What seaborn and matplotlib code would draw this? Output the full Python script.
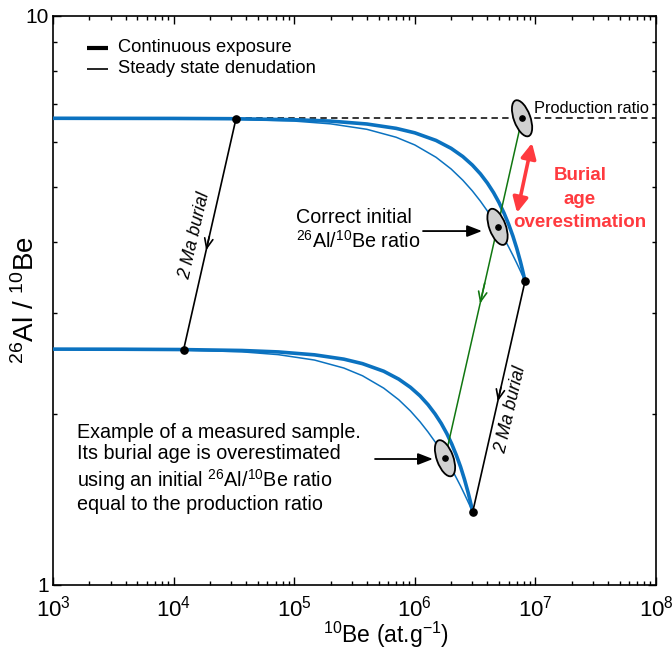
import numpy as np
import pandas as pd
import matplotlib
matplotlib.use("Agg")
import matplotlib.pyplot as plt
from matplotlib import transforms
from matplotlib.patches import Ellipse
from matplotlib.lines import Line2D
from matplotlib.ticker import FixedLocator, FixedFormatter, LogLocator, NullFormatter
import seaborn as sns

# ---------------------------------------------------------------------------
# Data
# ---------------------------------------------------------------------------
production_ratio = 6.61

# 10Be concentration (at/g) along the surface curves
be10_surface = [1e3, 1e4, 3e4, 1e5, 2e5, 4e5, 7e5, 1e6, 1.5e6, 2e6, 2.5e6, 3e6,
                3.5e6, 4e6, 4.5e6, 5e6, 5.5e6, 6e6, 6.5e6, 7e6, 7.5e6, 7.8e6,
                8.0e6, 8.1e6, 8.2e6]
ratio_exposure = [6.610, 6.606, 6.599, 6.572, 6.535, 6.459, 6.346, 6.232, 6.043,
                  5.853, 5.662, 5.470, 5.278, 5.085, 4.892, 4.697, 4.501, 4.304,
                  4.106, 3.906, 3.705, 3.583, 3.501, 3.459, 3.418]
ratio_denudation = [6.610, 6.602, 6.587, 6.536, 6.463, 6.322, 6.122, 5.934, 5.645,
                    5.384, 5.145, 4.927, 4.726, 4.541, 4.370, 4.211, 4.064, 3.927,
                    3.798, 3.678, 3.565, 3.500, 3.459, 3.438, 3.418]

# the same curves after 2 Ma of burial
be10_buried = [368, 3681, 1.104e4, 3.681e4, 7.362e4, 1.472e5, 2.577e5, 3.681e5,
               5.522e5, 7.362e5, 9.203e5, 1.104e6, 1.288e6, 1.472e6, 1.656e6,
               1.841e6, 2.025e6, 2.209e6, 2.393e6, 2.577e6, 2.761e6, 2.871e6,
               2.945e6, 2.982e6, 3.018e6]
ratio_exposure_buried = [2.598, 2.596, 2.593, 2.583, 2.568, 2.538, 2.494, 2.449,
                         2.375, 2.300, 2.225, 2.150, 2.074, 1.998, 1.923, 1.846,
                         1.769, 1.691, 1.614, 1.535, 1.456, 1.408, 1.376, 1.359,
                         1.343]
ratio_denudation_buried = [2.598, 2.595, 2.589, 2.569, 2.540, 2.485, 2.406, 2.332,
                           2.218, 2.116, 2.022, 1.936, 1.857, 1.785, 1.717, 1.655,
                           1.597, 1.543, 1.493, 1.445, 1.401, 1.376, 1.359, 1.351,
                           1.343]

# 2 Ma burial paths (start, end)
burial_low_be = [3.29e4, 1.211e4]
burial_low_ratio = [6.598, 2.593]
burial_sat_be = [8.2e6, 3.018e6]
burial_sat_ratio = [3.418, 1.343]

# burial path of the sample: production ratio -> correct initial -> measured
sample_be = [7.75e6, 4.85e6, 1.78e6]
sample_ratio = [6.61, 4.26, 1.67]

x_ticks = [1e3, 1e4, 1e5, 1e6, 1e7, 1e8]
y_ticks = [1, 10]
y_tick_labels = ["1", "10"]

# ---------------------------------------------------------------------------
# Style
# ---------------------------------------------------------------------------
sns.set_style("ticks")
plt.rcParams["font.family"] = ["Liberation Sans", "DejaVu Sans"]
plt.rcParams["mathtext.fontset"] = "custom"
plt.rcParams["mathtext.rm"] = "Liberation Sans"
plt.rcParams["mathtext.it"] = "Liberation Sans:italic"
plt.rcParams["mathtext.bf"] = "Liberation Sans:bold"
for key in ["text.color", "axes.labelcolor", "xtick.color", "ytick.color",
            "axes.edgecolor"]:
    plt.rcParams[key] = "black"

BLUE = "#0b72c0"
GREEN = "#117711"
RED = "#ff3a3f"

fig = plt.figure(figsize=(6.72, 6.55), dpi=100)
ax = fig.add_axes([0.0789, 0.1069, 0.8973, 0.8687])
ax.set_xscale("log")
ax.set_yscale("log")
ax.set_xlim(1e3, 1e8)
ax.set_ylim(1, 10)
ax.set_autoscale_on(False)

# production ratio reference line
ax.axhline(production_ratio, color="black", lw=1.1, ls=(0, (4.2, 2.8)), zorder=1)

# surface and buried curves
curves = [
    (be10_surface, ratio_exposure, 2.6),
    (be10_surface, ratio_denudation, 1.1),
    (be10_buried, ratio_exposure_buried, 2.6),
    (be10_buried, ratio_denudation_buried, 1.1),
]
for xs, ys, lw in curves:
    sns.lineplot(x=xs, y=ys, ax=ax, color=BLUE, linewidth=lw, sort=False,
                 estimator=None, zorder=3)


def interp_log(xs, ys, t):
    lx = np.log10(xs[0]) + t * (np.log10(xs[-1]) - np.log10(xs[0]))
    ly = np.log10(ys[0]) + t * (np.log10(ys[-1]) - np.log10(ys[0]))
    return 10 ** lx, 10 ** ly


def path_arrow(xs, ys, t, color):
    tip = interp_log(xs, ys, t)
    tail = interp_log(xs, ys, t - 0.06)
    ax.annotate("", xy=tip, xytext=tail,
                arrowprops=dict(arrowstyle="->,head_length=0.7,head_width=0.3",
                                color=color, lw=1.2, shrinkA=0, shrinkB=0),
                zorder=4)


# burial paths
for xs, ys, t in [(burial_low_be, burial_low_ratio, 0.57),
                  (burial_sat_be, burial_sat_ratio, 0.52)]:
    sns.lineplot(x=xs, y=ys, ax=ax, color="black", linewidth=1.2, sort=False,
                 estimator=None, zorder=4)
    path_arrow(xs, ys, t, "black")
    ax.plot([xs[0], xs[-1]], [ys[0], ys[-1]], "o", color="black", ms=5.2,
            zorder=7)

sns.lineplot(x=sample_be, y=sample_ratio, ax=ax, color=GREEN, linewidth=1.1,
             sort=False, estimator=None, zorder=4)
path_arrow([sample_be[0], sample_be[-1]], [sample_ratio[0], sample_ratio[-1]],
           0.545, GREEN)

# uncertainty ellipses drawn in display space around each point
for bx, ry in zip(sample_be, sample_ratio):
    tr = fig.dpi_scale_trans + transforms.ScaledTranslation(bx, ry, ax.transData)
    ax.add_patch(Ellipse((0, 0), width=0.165, height=0.38, angle=20,
                         transform=tr, facecolor="#d0d0d0",
                         edgecolor="black", lw=1.3, zorder=6))
    ax.plot([bx], [ry], "o", color="black", ms=3.8, zorder=7)

# ---------------------------------------------------------------------------
# Annotations
# ---------------------------------------------------------------------------
ax.text(0.2355, 0.6134, "2 Ma burial", transform=ax.transAxes, rotation=77,
        rotation_mode="anchor", ha="center", va="center", fontsize=13,
        style="italic")
ax.text(0.7595, 0.3076, "2 Ma burial", transform=ax.transAxes, rotation=77,
        rotation_mode="anchor", ha="center", va="center", fontsize=13,
        style="italic")

ax.text(0.7977, 0.838, "Production ratio", transform=ax.transAxes,
        ha="left", va="center", fontsize=11.8)

ax.text(0.403, 0.624, "Correct initial\n$^{26}$Al/$^{10}$Be ratio",
        transform=ax.transAxes, ha="left", va="center", fontsize=14.2,
        linespacing=1.15)
ax.annotate("", xy=(0.7114, 0.622), xytext=(0.6136, 0.622),
            xycoords="axes fraction", textcoords="axes fraction",
            arrowprops=dict(arrowstyle="-|>,head_length=0.9,head_width=0.35",
                            color="black", lw=1.3, shrinkA=0, shrinkB=0))

ax.text(0.0398, 0.2047,
        "Example of a measured sample.\nIts burial age is overestimated\n"
        "using an initial $^{26}$Al/$^{10}$Be ratio\nequal to the production ratio",
        transform=ax.transAxes, ha="left", va="center", fontsize=14.2,
        linespacing=1.18)
ax.annotate("", xy=(0.630, 0.2214), xytext=(0.534, 0.2214),
            xycoords="axes fraction", textcoords="axes fraction",
            arrowprops=dict(arrowstyle="-|>,head_length=0.9,head_width=0.35",
                            color="black", lw=1.3, shrinkA=0, shrinkB=0))

# overestimation arrow
ax.annotate("", xy=(7.04e6, 4.51), xytext=(9.37e6, 5.98),
            arrowprops=dict(arrowstyle="<|-|>,head_length=0.9,head_width=0.45",
                            color=RED, lw=2.6, shrinkA=0, shrinkB=0), zorder=5)
ax.text(0.874, 0.678, "Burial\nage\noverestimation", transform=ax.transAxes,
        ha="center", va="center", fontsize=13.5, fontweight="bold", color=RED,
        linespacing=1.5)

# legend (black handles)
for yy, lw, label in [(0.9438, 3.0, "Continuous exposure"),
                      (0.9069, 1.2, "Steady state denudation")]:
    ax.add_line(Line2D([0.0564, 0.0912], [yy, yy], transform=ax.transAxes,
                       color="black", lw=lw, solid_capstyle="butt"))
    ax.text(0.1078, yy, label, transform=ax.transAxes, ha="left",
            va="center", fontsize=13.2)

# ---------------------------------------------------------------------------
# Axes
# ---------------------------------------------------------------------------
ax.xaxis.set_major_locator(FixedLocator(x_ticks))
ax.xaxis.set_minor_locator(LogLocator(base=10, subs=np.arange(2, 10)))
ax.yaxis.set_major_locator(FixedLocator(y_ticks))
ax.yaxis.set_major_formatter(FixedFormatter(y_tick_labels))
ax.yaxis.set_minor_locator(LogLocator(base=10, subs=np.arange(2, 10)))
ax.yaxis.set_minor_formatter(NullFormatter())

ax.tick_params(which="both", direction="in", top=True, right=True,
               width=1.0, color="black")
ax.tick_params(which="major", length=6)
ax.tick_params(which="minor", length=3.2)
ax.tick_params(axis="x", which="major", labelsize=16, pad=8)
ax.tick_params(axis="y", which="major", labelsize=15, pad=3)
for s in ax.spines.values():
    s.set_linewidth(1.2)
    s.set_color("black")
    s.set_visible(True)

ax.set_xlabel("$^{10}$Be (at.g$^{-1}$)", fontsize=16.5)
ax.xaxis.set_label_coords(0.552, -0.062)
ax.set_ylabel("$^{26}$Al / $^{10}$Be", fontsize=20)
ax.yaxis.set_label_coords(-0.022, 0.5)

fig.savefig("out.png", dpi=100)
